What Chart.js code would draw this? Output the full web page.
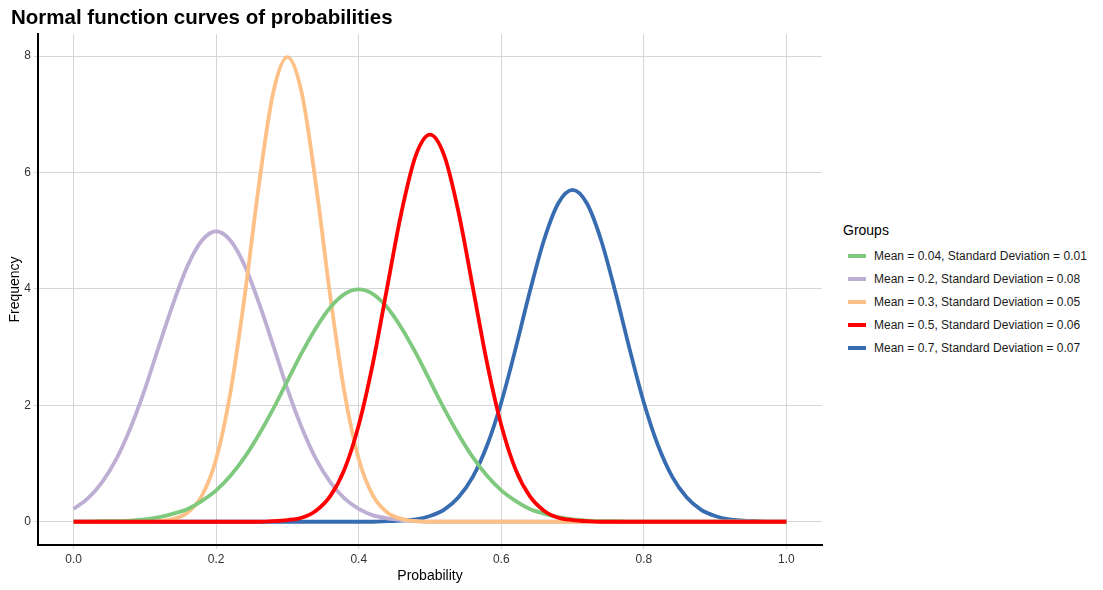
<!DOCTYPE html>
<html>
<head>
<meta charset="utf-8">
<script src="https://cdn.jsdelivr.net/npm/chart.js@4.4.1/dist/chart.umd.min.js"></script>
<style>
  body { margin: 0; background: #fff; font-family: "Liberation Sans", Arial, sans-serif; }
  #wrap { position: relative; width: 1103px; height: 590px; }
  #title { position: absolute; left: 11px; top: 5px; font-size: 20.5px; font-weight: bold; color: #000; }
  #box { position: absolute; left: 0; top: 0; width: 830px; height: 590px; }
  #legend { position: absolute; left: 843px; top: 222px; font-size: 12px; color: #1a1a1a; }
  #legend .head { font-size: 14px; color: #000; margin-bottom: 6px; }
  #legend .item { height: 23px; display: flex; align-items: center; }
  #legend .key { width: 18px; height: 4px; margin: 0 8px 0 5px; }
</style>
</head>
<body>
<div id="wrap">
  <div id="box"><canvas id="chart" width="830" height="590"></canvas></div>
  <div id="title">Normal function curves of probabilities</div>
  <div id="legend"></div>
</div>
<script>
// x positions (probability)
const probability = [0.00, 0.02, 0.04, 0.06, 0.08, 0.10, 0.12, 0.14, 0.16, 0.18,
  0.20, 0.22, 0.24, 0.26, 0.28, 0.30, 0.32, 0.34, 0.36, 0.38,
  0.40, 0.42, 0.44, 0.46, 0.48, 0.50, 0.52, 0.54, 0.56, 0.58,
  0.60, 0.62, 0.64, 0.66, 0.68, 0.70, 0.72, 0.74, 0.76, 0.78,
  0.80, 0.82, 0.84, 0.86, 0.88, 0.90, 0.92, 0.94, 0.96, 0.98, 1.00];

const groupLabels = [
  "Mean = 0.04, Standard Deviation = 0.01",
  "Mean = 0.2, Standard Deviation = 0.08",
  "Mean = 0.3, Standard Deviation = 0.05",
  "Mean = 0.5, Standard Deviation = 0.06",
  "Mean = 0.7, Standard Deviation = 0.07"
];
const groupColors = ["#7FC97F", "#BEAED4", "#FDC086", "#FF0000", "#386CB0"];

// frequencies
const greenFreq = [0.00, 0.00, 0.01, 0.01, 0.02, 0.04, 0.08, 0.14, 0.22, 0.36,
  0.54, 0.79, 1.11, 1.50, 1.94, 2.42, 2.90, 3.33, 3.68, 3.91,
  3.99, 3.91, 3.68, 3.33, 2.90, 2.42, 1.94, 1.50, 1.11, 0.79,
  0.54, 0.36, 0.22, 0.14, 0.08, 0.04, 0.02, 0.01, 0.01, 0.00,
  0.00, 0.00, 0.00, 0.00, 0.00, 0.00, 0.00, 0.00, 0.00, 0.00, 0.00];
const purpleFreq = [0.22, 0.40, 0.68, 1.08, 1.62, 2.28, 3.03, 3.76, 4.40, 4.83,
  4.99, 4.83, 4.40, 3.76, 3.03, 2.28, 1.62, 1.08, 0.68, 0.40,
  0.22, 0.11, 0.06, 0.03, 0.01, 0.00, 0.00, 0.00, 0.00, 0.00,
  0.00, 0.00, 0.00, 0.00, 0.00, 0.00, 0.00, 0.00, 0.00, 0.00,
  0.00, 0.00, 0.00, 0.00, 0.00, 0.00, 0.00, 0.00, 0.00, 0.00, 0.00];
const orangeFreq = [0.00, 0.00, 0.00, 0.00, 0.00, 0.00, 0.01, 0.05, 0.16, 0.45,
  1.08, 2.22, 3.88, 5.79, 7.37, 7.98, 7.37, 5.79, 3.88, 2.22,
  1.08, 0.45, 0.16, 0.05, 0.01, 0.00, 0.00, 0.00, 0.00, 0.00,
  0.00, 0.00, 0.00, 0.00, 0.00, 0.00, 0.00, 0.00, 0.00, 0.00,
  0.00, 0.00, 0.00, 0.00, 0.00, 0.00, 0.00, 0.00, 0.00, 0.00, 0.00];
const redFreq = [0.00, 0.00, 0.00, 0.00, 0.00, 0.00, 0.00, 0.00, 0.00, 0.00,
  0.00, 0.00, 0.00, 0.00, 0.01, 0.03, 0.07, 0.19, 0.44, 0.90,
  1.66, 2.73, 4.03, 5.32, 6.29, 6.65, 6.29, 5.32, 4.03, 2.73,
  1.66, 0.90, 0.44, 0.19, 0.07, 0.03, 0.01, 0.00, 0.00, 0.00,
  0.00, 0.00, 0.00, 0.00, 0.00, 0.00, 0.00, 0.00, 0.00, 0.00, 0.00];
const blueFreq = [0.00, 0.00, 0.00, 0.00, 0.00, 0.00, 0.00, 0.00, 0.00, 0.00,
  0.00, 0.00, 0.00, 0.00, 0.00, 0.00, 0.00, 0.00, 0.00, 0.00,
  0.00, 0.00, 0.01, 0.02, 0.04, 0.10, 0.21, 0.42, 0.77, 1.31,
  2.05, 2.97, 3.95, 4.84, 5.47, 5.70, 5.47, 4.84, 3.95, 2.97,
  2.05, 1.31, 0.77, 0.42, 0.21, 0.10, 0.04, 0.02, 0.01, 0.00, 0.00];

const xTicks = [0, 0.2, 0.4, 0.6, 0.8, 1.0];
const yTicks = [0, 2, 4, 6, 8];

const series = [greenFreq, purpleFreq, orangeFreq, redFreq, blueFreq];
// red on top, then green, orange, purple, blue
const drawOrder = [2, 4, 3, 1, 5];

const datasets = series.map((vals, i) => ({
  label: groupLabels[i],
  data: vals.map((v, j) => ({ x: probability[j], y: v })),
  borderColor: groupColors[i],
  backgroundColor: groupColors[i],
  borderWidth: 3.8,
  pointRadius: 0,
  fill: false,
  cubicInterpolationMode: "monotone",
  order: drawOrder[i],
}));

const gridColor = "#d6d6d6";

new Chart(document.getElementById("chart"), {
  type: "line",
  data: { datasets },
  options: {
    responsive: false,
    animation: false,
    layout: { padding: { top: 34, right: 8, left: 0, bottom: 0 } },
    plugins: {
      legend: { display: false },
      tooltip: { enabled: false },
      title: { display: false },
    },
    scales: {
      x: {
        type: "linear",
        min: -0.05,
        max: 1.05,
        afterFit: (s) => { s.height = 45; },
        afterBuildTicks: (s) => { s.ticks = xTicks.map((v) => ({ value: v })); },
        ticks: {
          includeBounds: false,
          padding: 3,
          color: "#333",
          font: { family: "Liberation Sans", size: 12 },
          callback: (v) => Number(v).toFixed(1),
          maxRotation: 0,
        },
        grid: { color: gridColor, lineWidth: 1, tickLength: 4, drawTicks: true },
        border: { display: true, color: "#000", width: 2 },
        title: {
          display: true,
          text: "Probability",
          color: "#000",
          font: { family: "Liberation Sans", size: 14 },
          padding: { top: 4, bottom: 5 },
        },
      },
      y: {
        type: "linear",
        min: -0.399,
        max: 8.378,
        afterFit: (s) => { s.width = 38; },
        afterBuildTicks: (s) => { s.ticks = yTicks.map((v) => ({ value: v })); },
        ticks: {
          includeBounds: false,
          padding: 3,
          color: "#333",
          font: { family: "Liberation Sans", size: 12 },
        },
        grid: { color: gridColor, lineWidth: 1, tickLength: 4, drawTicks: true },
        border: { display: true, color: "#000", width: 2 },
        title: {
          display: true,
          text: "Frequency",
          color: "#000",
          font: { family: "Liberation Sans", size: 14 },
          padding: { top: 7, bottom: 4 },
        },
      },
    },
  },
});

// legend
const legend = document.getElementById("legend");
legend.innerHTML = '<div class="head">Groups</div>' + groupLabels.map((t, i) =>
  '<div class="item"><span class="key" style="background:' + groupColors[i] + '"></span>' + t + '</div>'
).join("");
</script>
</body>
</html>
